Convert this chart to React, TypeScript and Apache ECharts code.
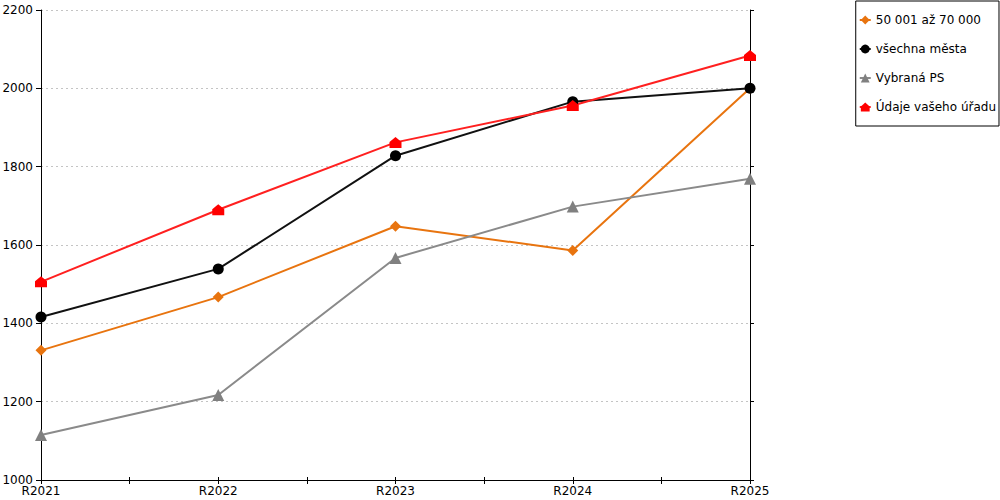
import React, { useEffect, useRef } from "react";
import * as echarts from "echarts";

const categories = ["R2021", "R2022", "R2023", "R2024", "R2025"];
const seriesNames = ["50 001 až 70 000", "všechna města", "Vybraná PS", "Údaje vašeho úřadu"];
const orangeValues = [1331, 1467, 1648, 1586, 2000];
const blackValues = [1416, 1539, 1828, 1966, 2000];
const grayValues = [1115, 1217, 1567, 1698, 1769];
const redValues = [1506, 1690, 1862, 1956, 2084];
const yMin = 1000;
const yMax = 2200;
const yStep = 200;

const FONT = "DejaVu Sans";
const HOUSE = "path://M6,0 L12,5 L12,11 L0,11 L0,5 Z";

export default function App() {
  const ref = useRef<HTMLDivElement>(null);
  useEffect(() => {
    if (!ref.current) return;
    const chart = echarts.init(ref.current, undefined, { renderer: "svg" });
    const gridBox = { left: 41, right: 250, top: 10, bottom: 20, outerBoundsMode: "none" } as any;
    const tickOnly = (extra: any) => ({
      axisLine: { show: false },
      axisLabel: { show: false },
      splitLine: { show: false },
      ...extra,
    });
    const option: any = {
      animation: false,
      backgroundColor: "#fff",
      textStyle: { fontFamily: FONT },
      grid: [{ ...gridBox }, { ...gridBox }],
      legend: {
        orient: "vertical",
        right: 1,
        top: 1,
        padding: [13, 3, 13, 3],
        itemGap: 17,
        itemWidth: 11,
        itemHeight: 11,
        borderColor: "#000",
        borderWidth: 1,
        textStyle: { fontFamily: FONT, fontSize: 12, color: "#000" },
        data: seriesNames,
      },
      xAxis: [
        {
          type: "category",
          gridIndex: 0,
          data: categories,
          boundaryGap: false,
          position: "bottom",
          axisLine: { lineStyle: { color: "#000", width: 1 } },
          axisTick: { show: false },
          axisLabel: { color: "#000", fontFamily: FONT, fontSize: 12, margin: 5 },
          splitLine: { show: false },
        },
        tickOnly({
          type: "value",
          gridIndex: 1,
          min: 0,
          max: categories.length - 1,
          interval: 0.5,
          position: "bottom",
          axisTick: { show: true, length: 4, lineStyle: { color: "#000" } },
        }),
        tickOnly({
          type: "value",
          gridIndex: 1,
          min: 0,
          max: categories.length - 1,
          interval: 0.5,
          position: "top",
          offset: -470,
          axisTick: { show: true, length: 3, lineStyle: { color: "#000" } },
        }),
      ],
      yAxis: [
        {
          type: "value",
          gridIndex: 0,
          min: yMin,
          max: yMax,
          interval: yStep,
          position: "left",
          axisLine: { show: true, lineStyle: { color: "#000", width: 1 } },
          axisTick: { show: false },
          axisLabel: {
            color: "#000",
            fontFamily: FONT,
            fontSize: 12,
            margin: 8,
            formatter: (v: number) => String(v),
          },
          splitLine: { show: true, lineStyle: { color: "#c4c4c4", type: [2, 3], width: 1 } },
        },
        {
          type: "value",
          gridIndex: 0,
          min: yMin,
          max: yMax,
          interval: yStep,
          position: "right",
          axisLine: { show: true, lineStyle: { color: "#000", width: 1 } },
          axisTick: { show: false },
          axisLabel: { show: false },
          splitLine: { show: false },
        },
        tickOnly({
          type: "value",
          gridIndex: 1,
          min: yMin,
          max: yMax,
          interval: yStep,
          position: "left",
          axisTick: { show: true, length: 5, lineStyle: { color: "#000" } },
        }),
        tickOnly({
          type: "value",
          gridIndex: 1,
          min: yMin,
          max: yMax,
          interval: yStep,
          position: "right",
          offset: -709,
          axisTick: { show: true, length: 4, lineStyle: { color: "#000" } },
        }),
      ],
      series: [
        {
          name: seriesNames[0],
          type: "line",
          data: orangeValues,
          symbol: "diamond",
          symbolSize: 11,
          itemStyle: { color: "#E8740F" },
          lineStyle: { color: "#E8740F", width: 2 },
        },
        {
          name: seriesNames[1],
          type: "line",
          data: blackValues,
          symbol: "circle",
          symbolSize: 11,
          itemStyle: { color: "#000" },
          lineStyle: { color: "#111", width: 2 },
        },
        {
          name: seriesNames[2],
          type: "line",
          data: grayValues,
          symbol: "triangle",
          symbolSize: 12,
          itemStyle: { color: "#808080" },
          lineStyle: { color: "#8a8a8a", width: 2 },
        },
        {
          name: seriesNames[3],
          type: "line",
          data: redValues,
          symbol: HOUSE,
          symbolSize: [12, 11],
          itemStyle: { color: "#FF0000" },
          lineStyle: { color: "#FF2020", width: 2 },
        },
      ],
    };
    chart.setOption(option);
    return () => chart.dispose();
  }, []);
  return (
    <div
      ref={ref}
      style={{ position: "fixed", left: 0, top: 0, width: 1000, height: 500, background: "#fff" }}
    />
  );
}
